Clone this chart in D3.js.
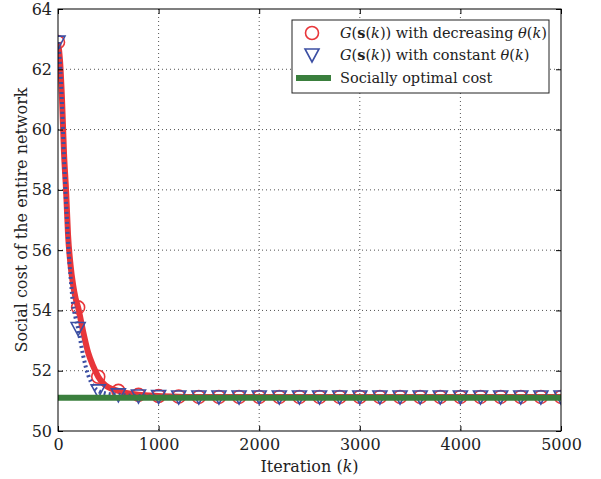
<!DOCTYPE html>
<html>
<head>
<meta charset="utf-8">
<script src="https://cdn.jsdelivr.net/npm/d3@7"></script>
<style>
  body { margin: 0; background: #fff; }
  svg { font-family: "DejaVu Serif", serif; }
</style>
</head>
<body>
<div id="chart"></div>
<script>
const iters = [0, 20, 40, 60, 80, 100, 125, 150, 175, 200, 250, 300, 350, 400, 450, 500, 600, 800,
  1000, 1200, 1400, 1600, 1800, 2000, 2200, 2400, 2600, 2800, 3000, 3200, 3400, 3600, 3800,
  4000, 4200, 4400, 4600, 4800, 5000];

// decreasing theta(k)
const costDecreasing = [62.9, 62.3, 61.0, 59.2, 58.0, 56.5, 55.5, 54.85, 54.4, 54.1, 53.3, 52.6, 52.15, 51.8, 51.58, 51.45, 51.33, 51.2,
  51.16, 51.14, 51.13, 51.13, 51.13, 51.13, 51.13, 51.13, 51.13, 51.13, 51.13, 51.13, 51.13, 51.13, 51.13,
  51.13, 51.13, 51.13, 51.13, 51.13, 51.13];

// constant theta(k)
const costConstant = [62.9, 62.2, 60.8, 59.0, 57.6, 56.3, 55.1, 54.2, 53.75, 53.4, 52.5, 51.85, 51.5, 51.33, 51.27, 51.23, 51.2, 51.16,
  51.14, 51.13, 51.13, 51.13, 51.13, 51.13, 51.13, 51.13, 51.13, 51.13, 51.13, 51.13, 51.13, 51.13, 51.13,
  51.13, 51.13, 51.13, 51.13, 51.13, 51.13];

const optimalCost = 51.1;
const xTicks = [0, 1000, 2000, 3000, 4000, 5000];
const yTicks = [50, 52, 54, 56, 58, 60, 62, 64];

const margin = {top: 9, right: 40, bottom: 48, left: 58};
const W = 601, H = 479;
const width = W - margin.left - margin.right;
const height = H - margin.top - margin.bottom;

const svg = d3.select("#chart").append("svg")
  .attr("width", W).attr("height", H);
const g = svg.append("g").attr("transform", `translate(${margin.left},${margin.top})`);

const x = d3.scaleLinear().domain([0, 5000]).range([0, width]);
const y = d3.scaleLinear().domain([50, 64]).range([height, 0]);

// grid
g.append("g").selectAll("line").data(xTicks.slice(1, -1)).enter().append("line")
  .attr("x1", d => x(d)).attr("x2", d => x(d)).attr("y1", 0).attr("y2", height)
  .attr("stroke", "#555").attr("stroke-width", 1).attr("stroke-dasharray", "1,3");
g.append("g").selectAll("line").data(yTicks.slice(1, -1)).enter().append("line")
  .attr("y1", d => y(d)).attr("y2", d => y(d)).attr("x1", 0).attr("x2", width)
  .attr("stroke", "#555").attr("stroke-width", 1).attr("stroke-dasharray", "1,3");

const red = "#e8363a", blue = "#3c4fa3", green = "#3a7f3d";
const pts = (vals) => iters.map((k, i) => ({k: k, v: vals[i]}));
const line = d3.line().x(d => x(d.k)).y(d => y(d.v)).curve(d3.curveMonotoneX);

svg.append("clipPath").attr("id", "clip").append("rect")
  .attr("width", width).attr("height", height);
const plot = g.append("g").attr("clip-path", "url(#clip)");

// decreasing theta series
plot.append("path").datum(pts(costDecreasing)).attr("d", line)
  .attr("fill", "none").attr("stroke", red).attr("stroke-width", 6);
plot.selectAll(".circ").data(pts(costDecreasing).filter(d => d.k % 200 === 0)).enter().append("circle")
  .attr("cx", d => x(d.k)).attr("cy", d => y(d.v)).attr("r", 6.5)
  .attr("fill", "none").attr("stroke", red).attr("stroke-width", 1.6);

// constant theta series
plot.append("path").datum(pts(costConstant)).attr("d", line)
  .attr("fill", "none").attr("stroke", blue).attr("stroke-width", 4)
  .attr("stroke-dasharray", "2,3");
const tri = (cx, cy) => `M${cx - 7},${cy - 6}L${cx + 7},${cy - 6}L${cx},${cy + 7}Z`;
plot.selectAll(".tri").data(pts(costConstant).filter(d => d.k % 200 === 0)).enter().append("path")
  .attr("d", d => tri(x(d.k), y(d.v)))
  .attr("fill", "none").attr("stroke", blue).attr("stroke-width", 1.6);

// socially optimal cost
plot.append("line").attr("x1", x(0)).attr("x2", x(5000))
  .attr("y1", y(optimalCost)).attr("y2", y(optimalCost))
  .attr("stroke", green).attr("stroke-width", 6);

// axes
const xAxis = g.append("g").attr("transform", `translate(0,${height})`)
  .call(d3.axisBottom(x).tickValues(xTicks).tickSize(-5).tickPadding(8).tickFormat(d3.format("d")));
const yAxis = g.append("g")
  .call(d3.axisLeft(y).tickValues(yTicks).tickSize(-5).tickPadding(6));
[xAxis, yAxis].forEach(a => {
  a.select(".domain").remove();
  a.selectAll("text").attr("font-family", "DejaVu Serif").attr("font-size", 16).attr("fill", "#222");
  a.selectAll("line").attr("stroke", "#000");
});
// ticks on top and right
g.append("g").call(d3.axisTop(x).tickValues(xTicks).tickSize(-5).tickFormat(""))
  .call(a => a.select(".domain").remove());
g.append("g").attr("transform", `translate(${width},0)`)
  .call(d3.axisRight(y).tickValues(yTicks).tickSize(-5).tickFormat(""))
  .call(a => a.select(".domain").remove());

g.append("rect").attr("width", width).attr("height", height)
  .attr("fill", "none").attr("stroke", "#000").attr("stroke-width", 1);

// axis labels
svg.append("text").attr("x", margin.left + width / 2).attr("y", 472)
  .attr("text-anchor", "middle").attr("font-size", 16).attr("fill", "#222")
  .html('Iteration (<tspan font-style="italic">k</tspan>)');
svg.append("text").attr("transform", "translate(27,220) rotate(-90)")
  .attr("text-anchor", "middle").attr("font-size", 16).attr("fill", "#222")
  .text("Social cost of the entire network");

// legend
const leg = svg.append("g").attr("transform", "translate(292,20)");
leg.append("rect").attr("width", 257).attr("height", 73)
  .attr("fill", "#fff").attr("stroke", "#222").attr("stroke-width", 1);
leg.append("circle").attr("cx", 20).attr("cy", 13).attr("r", 6.5)
  .attr("fill", "none").attr("stroke", red).attr("stroke-width", 1.6);
leg.append("path").attr("d", tri(20, 35))
  .attr("fill", "none").attr("stroke", blue).attr("stroke-width", 1.6);
leg.append("line").attr("x1", 4).attr("x2", 39).attr("y1", 58).attr("y2", 58)
  .attr("stroke", green).attr("stroke-width", 6);
const lab = (rest) => `<tspan font-style="italic">G</tspan>(<tspan font-weight="bold">s</tspan>(<tspan font-style="italic">k</tspan>)) ${rest} <tspan font-style="italic">θ</tspan>(<tspan font-style="italic">k</tspan>)`;
leg.append("text").attr("x", 48).attr("y", 18).attr("font-size", 14.5).attr("fill", "#222")
  .html(lab("with decreasing"));
leg.append("text").attr("x", 48).attr("y", 40).attr("font-size", 14.5).attr("fill", "#222")
  .html(lab("with constant"));
leg.append("text").attr("x", 48).attr("y", 63).attr("font-size", 14.5).attr("fill", "#222")
  .text("Socially optimal cost");
</script>
</body>
</html>
